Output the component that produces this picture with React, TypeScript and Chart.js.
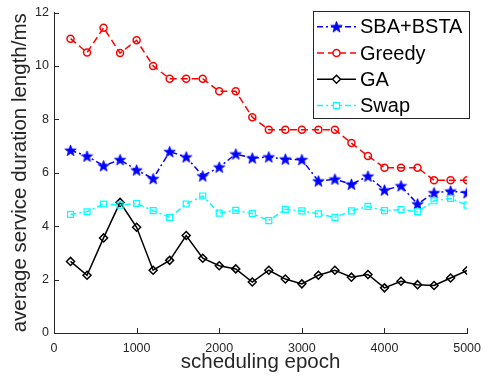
import React, { useEffect, useRef } from 'react';
import { Chart, registerables } from 'chart.js';

Chart.register(...registerables);

// Scheduling epochs at which each method was sampled
const epochs = [200, 400, 600, 800, 1000, 1200, 1400, 1600, 1800, 2000, 2200, 2400, 2600,
  2800, 3000, 3200, 3400, 3600, 3800, 4000, 4200, 4400, 4600, 4800, 5000];

// Average service duration length (ms) per method
const sbaBsta = [6.84, 6.62, 6.26, 6.49, 6.10, 5.78, 6.79, 6.59, 5.88, 6.21, 6.70, 6.55, 6.59,
  6.51, 6.49, 5.69, 5.76, 5.57, 5.87, 5.35, 5.51, 4.83, 5.25, 5.31, 5.25];
const greedy = [11.02, 10.50, 11.43, 10.48, 10.96, 10.00, 9.52, 9.52, 9.52, 9.05, 9.05, 8.08, 7.61,
  7.61, 7.61, 7.61, 7.61, 7.11, 6.63, 6.19, 6.19, 6.19, 5.72, 5.72, 5.72];
const ga = [2.68, 2.16, 3.56, 4.89, 3.96, 2.35, 2.72, 3.65, 2.80, 2.52, 2.40, 1.91, 2.35,
  2.02, 1.84, 2.16, 2.35, 2.09, 2.19, 1.69, 1.94, 1.81, 1.78, 2.06, 2.34];
const swap = [4.44, 4.54, 4.83, 4.79, 4.85, 4.58, 4.33, 4.83, 5.13, 4.49, 4.59, 4.47, 4.21,
  4.63, 4.57, 4.46, 4.33, 4.57, 4.74, 4.58, 4.62, 4.54, 4.95, 5.04, 4.79];

const seriesNames = ['SBA+BSTA', 'Greedy', 'GA', 'Swap'];
const xTicks = [0, 1000, 2000, 3000, 4000, 5000];
const yTicks = [0, 2, 4, 6, 8, 10, 12];

const FONT = "'Liberation Sans', Arial, Helvetica, sans-serif";
const AXIS_COLOR = '#262626';

function makeStar(color: string, r: number): HTMLCanvasElement {
  const size = Math.ceil(r * 2 + 3);
  const c = document.createElement('canvas');
  c.width = size;
  c.height = size;
  const ctx = c.getContext('2d')!;
  const cx = size / 2;
  const cy = size / 2 + 0.5;
  ctx.beginPath();
  for (let i = 0; i < 10; i++) {
    const ang = -Math.PI / 2 + (i * Math.PI) / 5;
    const rr = i % 2 === 0 ? r : r * 0.4;
    ctx.lineTo(cx + rr * Math.cos(ang), cy + rr * Math.sin(ang));
  }
  ctx.closePath();
  ctx.fillStyle = color;
  ctx.fill();
  ctx.strokeStyle = color;
  ctx.lineWidth = 0.8;
  ctx.stroke();
  return c;
}

type LegendStyle = {
  color: string;
  dash: number[];
  marker: 'star' | 'circle' | 'diamond' | 'square';
};

const legendStyles: LegendStyle[] = [
  { color: '#0000ff', dash: [6, 3, 2, 3], marker: 'star' },
  { color: '#ff0000', dash: [7, 4], marker: 'circle' },
  { color: '#000000', dash: [], marker: 'diamond' },
  { color: '#00ffff', dash: [6, 3, 2, 3], marker: 'square' },
];

export default function App() {
  const canvasRef = useRef<HTMLCanvasElement | null>(null);

  useEffect(() => {
    const canvas = canvasRef.current;
    if (!canvas) return;
    const star = makeStar('#0000ff', 6);

    const toPoints = (vals: number[]) => vals.map((v, i) => ({ x: epochs[i], y: v }));

    // Inward tick marks on both axes
    const innerTicks = {
      id: 'innerTicks',
      afterDraw(chart: any) {
        const { ctx, chartArea, scales } = chart;
        ctx.save();
        ctx.strokeStyle = AXIS_COLOR;
        ctx.lineWidth = 1;
        ctx.beginPath();
        xTicks.forEach((t) => {
          const px = Math.round(scales.x.getPixelForValue(t)) + 0.5;
          ctx.moveTo(px, chartArea.bottom);
          ctx.lineTo(px, chartArea.bottom - 5);
        });
        yTicks.forEach((t) => {
          const py = Math.round(scales.y.getPixelForValue(t)) + 0.5;
          ctx.moveTo(chartArea.left, py);
          ctx.lineTo(chartArea.left + 5, py);
        });
        ctx.stroke();
        ctx.restore();
      },
    };

    // Boxed legend with line + marker samples
    const boxLegend = {
      id: 'boxLegend',
      afterDraw(chart: any) {
        const { ctx } = chart;
        ctx.save();
        const bx = 313.5, by = 11.5, bw = 156, bh = 107;
        ctx.fillStyle = '#ffffff';
        ctx.fillRect(bx, by, bw, bh);
        ctx.strokeStyle = AXIS_COLOR;
        ctx.lineWidth = 1;
        ctx.strokeRect(bx, by, bw, bh);
        seriesNames.forEach((name, i) => {
          const st = legendStyles[i];
          const y = 26.7 + i * 26.3;
          ctx.save();
          ctx.strokeStyle = st.color;
          ctx.lineWidth = 1.5;
          ctx.setLineDash(st.dash);
          ctx.beginPath();
          ctx.moveTo(317, y);
          ctx.lineTo(356, y);
          ctx.stroke();
          ctx.restore();
          const mx = 336.5;
          ctx.save();
          ctx.strokeStyle = st.color;
          ctx.lineWidth = 1.5;
          if (st.marker === 'star') {
            ctx.drawImage(star, mx - star.width / 2, y - star.height / 2);
          } else if (st.marker === 'circle') {
            ctx.fillStyle = '#ffffff';
            ctx.beginPath();
            ctx.arc(mx, y, 3.5, 0, Math.PI * 2);
            ctx.fill();
            ctx.stroke();
          } else if (st.marker === 'diamond') {
            ctx.fillStyle = '#ffffff';
            ctx.beginPath();
            ctx.moveTo(mx - 4, y);
            ctx.lineTo(mx, y - 4);
            ctx.lineTo(mx + 4, y);
            ctx.lineTo(mx, y + 4);
            ctx.closePath();
            ctx.fill();
            ctx.stroke();
          } else {
            ctx.fillStyle = '#ffffff';
            ctx.lineWidth = 1.2;
            ctx.fillRect(mx - 3, y - 3, 6, 6);
            ctx.strokeRect(mx - 3, y - 3, 6, 6);
          }
          ctx.restore();
          ctx.fillStyle = '#000000';
          ctx.font = `20px ${FONT}`;
          ctx.textBaseline = 'middle';
          ctx.textAlign = 'left';
          ctx.fillText(name, 360, y + 1);
        });
        ctx.restore();
      },
    };

    const chart = new Chart(canvas, {
      type: 'line',
      data: {
        datasets: [
          {
            label: seriesNames[0],
            data: toPoints(sbaBsta),
            borderColor: '#0000ff',
            borderWidth: 1.5,
            borderDash: [6, 3, 2, 3],
            pointStyle: star,
            pointRadius: 6,
            pointBorderColor: '#0000ff',
            pointBackgroundColor: '#0000ff',
            order: 3,
          },
          {
            label: seriesNames[1],
            data: toPoints(greedy),
            borderColor: '#ff0000',
            borderWidth: 1.5,
            borderDash: [7, 4],
            pointStyle: 'circle',
            pointRadius: 3.5,
            pointBorderWidth: 1.5,
            pointBorderColor: '#ff0000',
            pointBackgroundColor: 'rgba(0,0,0,0)',
            order: 2,
          },
          {
            label: seriesNames[2],
            data: toPoints(ga),
            borderColor: '#000000',
            borderWidth: 1.5,
            pointStyle: 'rectRot',
            pointRadius: 4,
            pointBorderWidth: 1.5,
            pointBorderColor: '#000000',
            pointBackgroundColor: 'rgba(0,0,0,0)',
            order: 1,
          },
          {
            label: seriesNames[3],
            data: toPoints(swap),
            borderColor: '#00ffff',
            borderWidth: 1.5,
            borderDash: [6, 3, 2, 3],
            pointStyle: 'rect',
            pointRadius: 4.2,
            pointBorderWidth: 1.2,
            pointBorderColor: '#00ffff',
            pointBackgroundColor: 'rgba(0,0,0,0)',
            order: 0,
          },
        ],
      },
      options: {
        responsive: false,
        animation: false,
        events: [],
        layout: { padding: { left: 0, right: 17, top: 10, bottom: 0 } },
        elements: { line: { tension: 0, fill: false } },
        plugins: {
          legend: { display: false },
          tooltip: { enabled: false },
        },
        scales: {
          x: {
            type: 'linear',
            min: 0,
            max: 5000,
            afterFit(scale: any) {
              scale.height = 51;
            },
            afterBuildTicks(scale: any) {
              scale.ticks = xTicks.map((v) => ({ value: v }));
            },
            grid: { display: false, drawTicks: false },
            border: { display: true, color: AXIS_COLOR, width: 1 },
            ticks: {
              color: AXIS_COLOR,
              font: { family: FONT, size: 12.5 },
              padding: 8,
              maxRotation: 0,
              callback: (v: any) => String(v),
            },
            title: {
              display: true,
              text: 'scheduling epoch',
              color: AXIS_COLOR,
              font: { family: FONT, size: 20.5 },
              padding: { top: 0, bottom: 9 },
            },
          },
          y: {
            type: 'linear',
            min: 0,
            max: 12,
            afterFit(scale: any) {
              scale.width = 54;
            },
            afterBuildTicks(scale: any) {
              scale.ticks = yTicks.map((v) => ({ value: v }));
            },
            grid: { display: false, drawTicks: false },
            border: { display: true, color: AXIS_COLOR, width: 1 },
            ticks: {
              color: AXIS_COLOR,
              font: { family: FONT, size: 12.5 },
              padding: 5,
              callback: (v: any) => String(v),
            },
            title: {
              display: true,
              text: 'average service duration length/ms',
              color: AXIS_COLOR,
              font: { family: FONT, size: 20.5 },
              padding: { top: 8, bottom: 0 },
            },
          },
        },
      },
      plugins: [innerTicks, boxLegend],
    } as any);

    return () => chart.destroy();
  }, []);

  return (
    <div style={{ position: 'absolute', left: 0, top: 0, width: 489, height: 384, background: '#ffffff' }}>
      <canvas ref={canvasRef} width={489} height={384} style={{ display: 'block', width: 489, height: 384 }} />
    </div>
  );
}
